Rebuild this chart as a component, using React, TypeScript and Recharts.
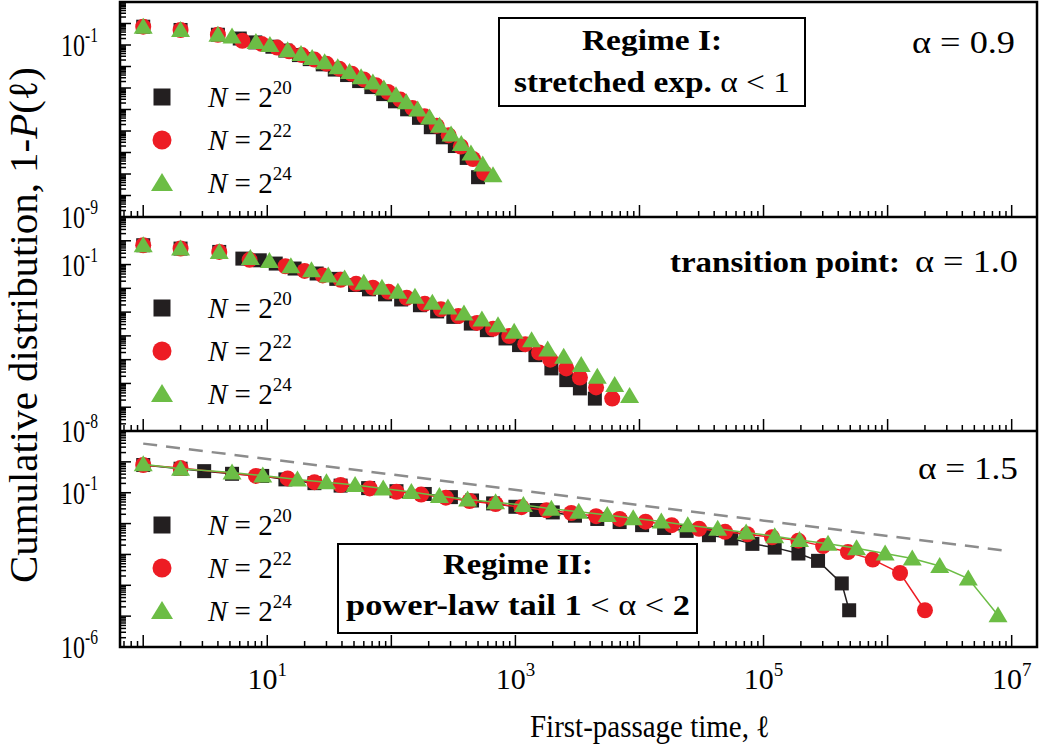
import React from 'react';
import { ComposedChart, Scatter, XAxis, YAxis, Legend } from 'recharts';

const FONT = '"Liberation Serif", "Times New Roman", serif';
const BLACK = '#231f20';
const RED = '#ed1c24';
const GREEN = '#6cbd45';

// first-passage times and 1-P(l), panel 1 (alpha = 0.9)
const p1BlackL = [1, 2, 4, 6, 8, 11, 14, 18, 22, 28, 35, 44, 55, 69, 86, 107, 134, 167, 208, 260, 325, 405, 500];
const p1BlackP = [0.71, 0.5, 0.3, 0.2, 0.132, 8.3e-2, 5.5e-2, 3.4e-2, 2.2e-2, 1.26e-2, 7.2e-3, 4.0e-3, 2.1e-3, 1.1e-3, 5.2e-4, 2.4e-4, 1.02e-4, 4.1e-5, 1.5e-5, 5.1e-6, 2.0e-6, 5.6e-7, 7.1e-8];
const p1RedL = [1, 2, 4, 6.3, 9, 12, 15, 19, 24, 30, 38, 48, 60, 75, 94, 118, 148, 185, 232, 290, 363, 455, 560];
const p1RedP = [0.71, 0.5, 0.3, 0.158, 0.112, 7.6e-2, 5.1e-2, 3.4e-2, 2.1e-2, 1.35e-2, 7.9e-3, 4.6e-3, 2.5e-3, 1.35e-3, 6.5e-4, 2.9e-4, 1.17e-4, 4.8e-5, 1.74e-5, 6.3e-6, 1.9e-6, 5.0e-7, 1.12e-7];
const p1GreenL = [1, 2, 4, 5.2, 8.1, 10.5, 14.6, 18.7, 23, 29, 37, 46, 57, 71, 87, 109, 132, 163, 203, 244, 303, 366, 438, 545, 660];
const p1GreenP = [0.71, 0.5, 0.3, 0.25, 0.138, 0.1, 5.75e-2, 3.8e-2, 2.5e-2, 1.58e-2, 9.3e-3, 5.6e-3, 3.2e-3, 1.8e-3, 9.5e-4, 4.6e-4, 2.2e-4, 1e-4, 4.2e-5, 1.74e-5, 6.8e-6, 2.5e-6, 8.9e-7, 2.8e-7, 8.7e-8];

// panel 2 (alpha = 1.0)
const p2BlackL = [1, 2, 4.1, 6.3, 8.7, 11.7, 16.6, 25, 36, 51, 66, 89, 120, 170, 234, 316, 437, 589, 832, 1070, 1450, 1950, 2570, 3310, 4370];
const p2BlackP = [0.65, 0.47, 0.34, 0.178, 0.151, 0.11, 6.8e-2, 4.2e-2, 2.5e-2, 1.38e-2, 9.1e-3, 5.6e-3, 3.4e-3, 1.95e-3, 1.07e-3, 6.3e-4, 3.3e-4, 1.74e-4, 7.8e-5, 4.1e-5, 1.55e-5, 4.3e-6, 1.38e-6, 6.2e-7, 2.3e-7];
const p2RedL = [1, 2, 4.1, 7.2, 14, 20, 28, 39, 52, 71, 95, 133, 186, 251, 347, 490, 661, 891, 1200, 1550, 1910, 2570, 3310, 4470, 6030];
const p2RedP = [0.65, 0.47, 0.34, 0.158, 8.5e-2, 5.4e-2, 3.5e-2, 2.3e-2, 1.55e-2, 1.07e-2, 7.1e-3, 4.0e-3, 2.24e-3, 1.32e-3, 6.8e-4, 3.5e-4, 2.0e-4, 9.8e-5, 4.5e-5, 2.0e-5, 1.0e-5, 4.3e-6, 1.78e-6, 6.8e-7, 2.3e-7];
const p2GreenL = [1, 2, 4.1, 7.3, 10.4, 15.5, 22.7, 31, 42, 60, 84, 113, 155, 214, 286, 385, 537, 724, 977, 1350, 1820, 2450, 3390, 4570, 6310, 8320];
const p2GreenP = [0.65, 0.47, 0.34, 0.19, 0.141, 8.5e-2, 5.8e-2, 3.5e-2, 2.6e-2, 1.7e-2, 1.05e-2, 7.1e-3, 4.4e-3, 2.45e-3, 1.55e-3, 8.7e-4, 4.9e-4, 2.8e-4, 1.48e-4, 6.6e-5, 2.7e-5, 1.32e-5, 5.9e-6, 1.9e-6, 8.5e-7, 3.0e-7];

// panel 3 (alpha = 1.5)
const p3BlackL = [1, 2, 3.1, 5.2, 9.1, 14, 24, 39, 65, 110, 186, 302, 447, 661, 1000, 1480, 2000, 3020, 4570, 6920, 10500, 15800, 24000, 36300, 55000, 81300, 123000, 191000, 275000, 427000, 490000];
const p3BlackP = [0.79, 0.6, 0.5, 0.41, 0.35, 0.27, 0.204, 0.17, 0.141, 0.112, 9.1e-2, 7.2e-2, 5.6e-2, 4.5e-2, 3.5e-2, 2.75e-2, 2.3e-2, 1.8e-2, 1.41e-2, 1.12e-2, 8.9e-3, 7.2e-3, 5.8e-3, 4.2e-3, 3.3e-3, 2.2e-3, 1.66e-3, 1.07e-3, 6.2e-4, 1.15e-4, 1.55e-5];
const p3RedL = [1, 2, 8.1, 14.6, 24, 39, 67, 110, 174, 275, 427, 692, 1120, 1780, 2820, 4470, 6920, 11200, 18200, 30200, 49000, 74100, 117000, 191000, 302000, 479000, 759000, 1.26e6, 2.0e6];
const p3RedP = [0.79, 0.63, 0.35, 0.29, 0.22, 0.178, 0.138, 0.107, 8.7e-2, 6.9e-2, 5.4e-2, 4.3e-2, 3.4e-2, 2.7e-2, 2.2e-2, 1.74e-2, 1.41e-2, 1.15e-2, 8.9e-3, 6.8e-3, 5.4e-3, 4.5e-3, 3.6e-3, 2.8e-3, 1.86e-3, 1.2e-3, 6.8e-4, 2.5e-4, 1.55e-5];
const p3GreenL = [1, 2, 5.2, 9.2, 17.5, 30, 51, 86, 145, 244, 412, 692, 1160, 1950, 3240, 5500, 8900, 15000, 24500, 42700, 72400, 123000, 195000, 331000, 562000, 955000, 1.58e6, 2.63e6, 4.47e6, 7.76e6];
const p3GreenP = [0.83, 0.6, 0.45, 0.36, 0.27, 0.22, 0.178, 0.138, 0.105, 7.8e-2, 6.0e-2, 4.9e-2, 4.0e-2, 3.0e-2, 2.4e-2, 1.9e-2, 1.5e-2, 1.17e-2, 8.9e-3, 6.8e-3, 5.1e-3, 3.9e-3, 2.95e-3, 2.2e-3, 1.58e-3, 1.07e-3, 7.4e-4, 4.2e-4, 1.66e-4, 1.07e-5];

// dashed guide, slope -(alpha-1)
const guideL = [1, 9.3e6];
const guideP = [3.9, 1.3e-3];

const legendExp = ['20', '22', '24'];
const xLabelExp = [1, 3, 5, 7];

const X_MIN = 0.65;
const X_MAX = 1.6e7;

type Pt = { x: number; y: number };
const pts = (xs: number[], ys: number[]): Pt[] => xs.map((x, i) => ({ x, y: ys[i] }));

// k * 10^e ticks, minor and major
function logTicks(lo: number, hi: number) {
  const out: number[] = [];
  for (let e = lo; e < hi; e++) for (let k = 1; k < 10; k++) out.push(k * Math.pow(10, e));
  out.push(Math.pow(10, hi));
  return out;
}
const xTicks = [0.7, 0.8, 0.9, ...logTicks(0, 7)];

function decade(v: number) {
  const lg = Math.log10(v);
  const e = Math.round(lg);
  return { e, major: Math.abs(lg - e) < 1e-6 };
}

const XTick = (props: any) => {
  const { x, y, payload, labels } = props;
  const { e, major } = decade(payload.value);
  return (
    <g>
      <line x1={x} x2={x} y1={y} y2={y - (major ? 12 : 6)} stroke="#000" strokeWidth={1.5} />
      {labels && major && labels.includes(e) && (
        <text x={x} y={y + 42} textAnchor="middle" fontFamily={FONT} fontSize={30} fill="#000">
          10<tspan dy={-13} fontSize={19}>{e}</tspan>
        </text>
      )}
    </g>
  );
};

const YTick = (props: any) => {
  const { x, y, payload, labels } = props;
  const { e, major } = decade(payload.value);
  return (
    <g>
      <line x1={x} x2={x + (major ? 11 : 6)} y1={y} y2={y} stroke="#000" strokeWidth={1.5} />
      {major && labels.includes(e) && (
        <text
          x={x - 22}
          y={y + 11}
          textAnchor="end"
          fontFamily={FONT}
          fontSize={31}
          fill="#000"
          textLength={37}
          lengthAdjust="spacingAndGlyphs"
        >
          10<tspan dy={-14} fontSize={20}>{e}</tspan>
        </text>
      )}
    </g>
  );
};

const Square = (p: any) => <rect x={p.cx - 7} y={p.cy - 7} width={14} height={14} fill={BLACK} />;
const Dot = (p: any) => <circle cx={p.cx} cy={p.cy} r={8} fill={RED} />;
const Tri = (p: any) => (
  <polygon points={`${p.cx},${p.cy - 9} ${p.cx + 9.5},${p.cy + 7} ${p.cx - 9.5},${p.cy + 7}`} fill={GREEN} />
);
const NoMark = () => <g />;

const NLegend = () => (
  <svg width={200} height={130} style={{ overflow: 'visible' }}>
    <rect x={13.5} y={11.5} width={17} height={17} fill={BLACK} />
    <circle cx={22} cy={63} r={9.5} fill={RED} />
    <polygon points="22,96 33,114 11,114" fill={GREEN} />
    {legendExp.map((s, i) => (
      <text key={s} x={68} y={30 + i * 43} fontFamily={FONT} fontSize={29} fill="#000">
        <tspan fontStyle="italic">N</tspan> = 2<tspan dy={-13} fontSize={19}>{s}</tspan>
      </text>
    ))}
  </svg>
);

type PanelProps = {
  top: number;
  h: number;
  bottom: number;
  yMinExp: number;
  yLabels: number[];
  xLabels?: number[];
  black: Pt[];
  red: Pt[];
  green: Pt[];
  joined?: boolean;
  guide?: Pt[];
  legendTop: number;
};

function Panel(props: PanelProps) {
  const yTicks = logTicks(props.yMinExp, 1);
  const lw = props.joined ? { strokeWidth: 1.5 } : undefined;
  return (
    <div style={{ position: 'absolute', left: 0, top: props.top - 20 }}>
      <ComposedChart
        width={1050}
        height={props.h + 20 + props.bottom}
        margin={{ top: 20, right: 13, bottom: props.bottom - 1, left: 119 }}
      >
        <XAxis
          type="number"
          dataKey="x"
          scale="log"
          domain={[X_MIN, X_MAX]}
          allowDataOverflow
          ticks={xTicks}
          interval={0}
          height={1}
          tickSize={0}
          tickMargin={0}
          axisLine={false}
          tickLine={false}
          tick={(t: any) => <XTick {...t} labels={props.xLabels} />}
        />
        <YAxis
          type="number"
          dataKey="y"
          scale="log"
          domain={[Math.pow(10, props.yMinExp), 10]}
          allowDataOverflow
          ticks={yTicks}
          interval={0}
          width={1}
          tickSize={0}
          tickMargin={0}
          axisLine={false}
          tickLine={false}
          tick={(t: any) => <YTick {...t} labels={props.yLabels} />}
        />
        <Legend
          layout="vertical"
          align="center"
          verticalAlign="middle"
          content={() => <NLegend />}
          wrapperStyle={{ left: 140, top: props.legendTop, width: 200, height: 130 }}
        />
        {props.guide && (
          <Scatter
            data={props.guide}
            shape={NoMark}
            line={{ stroke: '#8c8c8c', strokeWidth: 2.5, strokeDasharray: '14 9' }}
            isAnimationActive={false}
          />
        )}
        <Scatter data={props.black} shape={Square} line={lw && { ...lw, stroke: BLACK }} isAnimationActive={false} />
        <Scatter data={props.red} shape={Dot} line={lw && { ...lw, stroke: RED }} isAnimationActive={false} />
        <Scatter data={props.green} shape={Tri} line={lw && { ...lw, stroke: GREEN }} isAnimationActive={false} />
      </ComposedChart>
    </div>
  );
}

export default function App() {
  return (
    <div style={{ position: 'absolute', left: 0, top: 0, width: 1050, height: 750, background: '#fff', fontFamily: FONT }}>
      <Panel
        top={2}
        h={215}
        bottom={20}
        yMinExp={-9}
        yLabels={[-1, -9]}
        black={pts(p1BlackL, p1BlackP)}
        red={pts(p1RedL, p1RedP)}
        green={pts(p1GreenL, p1GreenP)}
        legendTop={95}
      />
      <Panel
        top={217}
        h={214}
        bottom={20}
        yMinExp={-8}
        yLabels={[-1, -8]}
        black={pts(p2BlackL, p2BlackP)}
        red={pts(p2RedL, p2RedP)}
        green={pts(p2GreenL, p2GreenP)}
        legendTop={91}
      />
      <Panel
        top={431}
        h={216}
        bottom={100}
        yMinExp={-6}
        yLabels={[-1, -6]}
        xLabels={xLabelExp}
        black={pts(p3BlackL, p3BlackP)}
        red={pts(p3RedL, p3RedP)}
        green={pts(p3GreenL, p3GreenP)}
        joined
        guide={pts(guideL, guideP)}
        legendTop={94}
      />
      <svg
        width={1050}
        height={750}
        style={{ position: 'absolute', left: 0, top: 0, pointerEvents: 'none' }}
        fontFamily={FONT}
      >
        <rect x={120} y={2} width={917} height={645} fill="none" stroke="#000" strokeWidth={2.5} />
        <line x1={120} x2={1037} y1={217} y2={217} stroke="#000" strokeWidth={2.5} />
        <line x1={120} x2={1037} y1={431} y2={431} stroke="#000" strokeWidth={2.5} />

        <rect x={499} y={18} width={306} height={88} fill="#fff" stroke="#000" strokeWidth={2} />
        <text x={652} y={50} textAnchor="middle" fontSize={29} fontWeight="bold" textLength={140} lengthAdjust="spacingAndGlyphs">
          Regime I:
        </text>
        <text x={652} y={92} textAnchor="middle" fontSize={29} textLength={276} lengthAdjust="spacingAndGlyphs">
          <tspan fontWeight="bold">stretched exp. </tspan>α &lt; 1
        </text>
        <text x={912} y={53} fontSize={31} textLength={103} lengthAdjust="spacingAndGlyphs">α = 0.9</text>

        <text x={670} y={272} fontSize={30} fontWeight="bold" textLength={230} lengthAdjust="spacingAndGlyphs">
          transition point:
        </text>
        <text x={915} y={272} fontSize={31} textLength={103} lengthAdjust="spacingAndGlyphs">α = 1.0</text>

        <text x={918} y={479} fontSize={31} textLength={100} lengthAdjust="spacingAndGlyphs">α = 1.5</text>
        <rect x={338} y={544} width={359} height={89} fill="#fff" stroke="#000" strokeWidth={2} />
        <text x={518} y={574} textAnchor="middle" fontSize={29} fontWeight="bold" textLength={150} lengthAdjust="spacingAndGlyphs">
          Regime II:
        </text>
        <text x={346} y={615} fontSize={29} textLength={344} lengthAdjust="spacingAndGlyphs">
          <tspan fontWeight="bold">power-law tail  1</tspan> &lt; α &lt; <tspan fontWeight="bold">2</tspan>
        </text>

        <text x={530} y={737} fontSize={31} textLength={240} lengthAdjust="spacingAndGlyphs">
          First-passage time, ℓ
        </text>
        <text
          transform="translate(37,325) rotate(-90)"
          textAnchor="middle"
          fontSize={41}
          textLength={516}
          lengthAdjust="spacingAndGlyphs"
        >
          Cumulative distribution, 1-<tspan fontStyle="italic">P</tspan>(ℓ)
        </text>
      </svg>
    </div>
  );
}
